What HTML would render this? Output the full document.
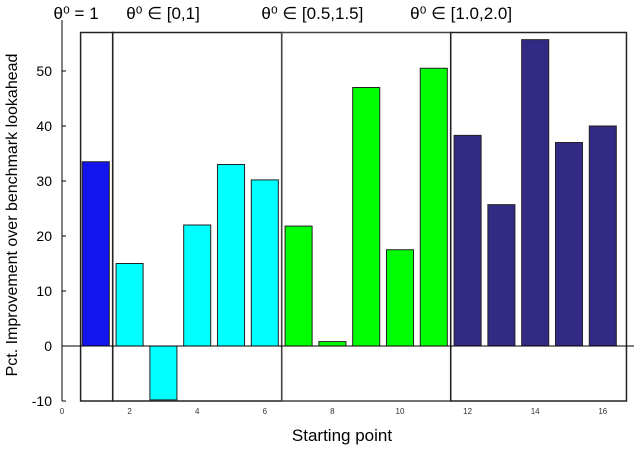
<!DOCTYPE html>
<html><head><meta charset="utf-8"><style>
body{margin:0;background:#fff}
svg text{font-family:"Liberation Sans",sans-serif}
</style></head><body>
<svg id="c" width="634" height="446" xmlns="http://www.w3.org/2000/svg"></svg>
<script>
const categories=[1,2,3,4,5,6,7,8,9,10,11,12,13,14,15,16];
const values=[33.5,15,-9.8,22,33,30.2,21.8,0.8,47,17.5,50.5,38.3,25.7,55.7,37,40];
const groupIdx=[0,1,1,1,1,1,2,2,2,2,2,3,3,3,3,3];
const groupColors=["#1414ee","#00ffff","#00ff00","#332a85"];
const groupRanges=[[0.55,1.5],[1.5,6.5],[6.5,11.5],[11.5,16.7]];
const groupLabels=["θ⁰ = 1","θ⁰ ∈ [0,1]","θ⁰ ∈ [0.5,1.5]","θ⁰ ∈ [1.0,2.0]"];
const groupLabelX=[-0.25,1.9,5.9,10.3];
const yTicks=[-10,0,10,20,30,40,50];
const xTicks=[0,2,4,6,8,10,12,14,16];
const X=v=>62+v*33.8, Y=v=>346-v*5.5;
const s=document.getElementById('c'), NS="http://www.w3.org/2000/svg";
function mk(t,a,txt){const e=document.createElementNS(NS,t);for(const k in a)e.setAttribute(k,a[k]);if(txt!==undefined)e.textContent=txt;s.appendChild(e);return e;}
groupRanges.forEach((r,i)=>{const e=mk('rect',{x:X(r[0]),y:Y(57),width:X(r[1])-X(r[0]),height:Y(-10)-Y(57),fill:'none',stroke:i==2?'#444':'#222','stroke-width':1.5});

});
values.forEach((v,i)=>{const x=categories[i];const y0=Y(Math.max(v,0)),y1=Y(Math.min(v,0));
const e=mk('rect',{x:X(x-0.4),y:y0,width:X(0.8)-X(0),height:y1-y0,fill:groupColors[groupIdx[i]],stroke:'#222','stroke-width':1});

});
let z=mk('line',{x1:62,x2:634,y1:Y(0),y2:Y(0),stroke:'#000','stroke-width':1});


let ax=mk('line',{x1:62,x2:62,y1:20,y2:Y(-10),stroke:'#000','stroke-width':1});


yTicks.forEach(t=>{const e=mk('text',{x:52,y:Y(t)+5,'text-anchor':'end','font-size':14},String(t));


mk('line',{x1:62,x2:66,y1:Y(t),y2:Y(t),stroke:'#000'});});
xTicks.forEach(t=>{const e=mk('text',{x:X(t),y:414,'text-anchor':'middle','font-size':8,fill:'#333'},String(t));

});
groupLabels.forEach((l,i)=>{const e=mk('text',{x:X(groupLabelX[i]),y:19,'font-size':17,'font-family':'"Liberation Serif",serif'},l);

});
let xt=mk('text',{x:342,y:441,'text-anchor':'middle','font-size':17},'Starting point');


let yt=mk('text',{x:0,y:0,'text-anchor':'middle','font-size':16,transform:'translate(17,215) rotate(-90)'},'Pct. Improvement over benchmark lookahead');


</script>
</body></html>
